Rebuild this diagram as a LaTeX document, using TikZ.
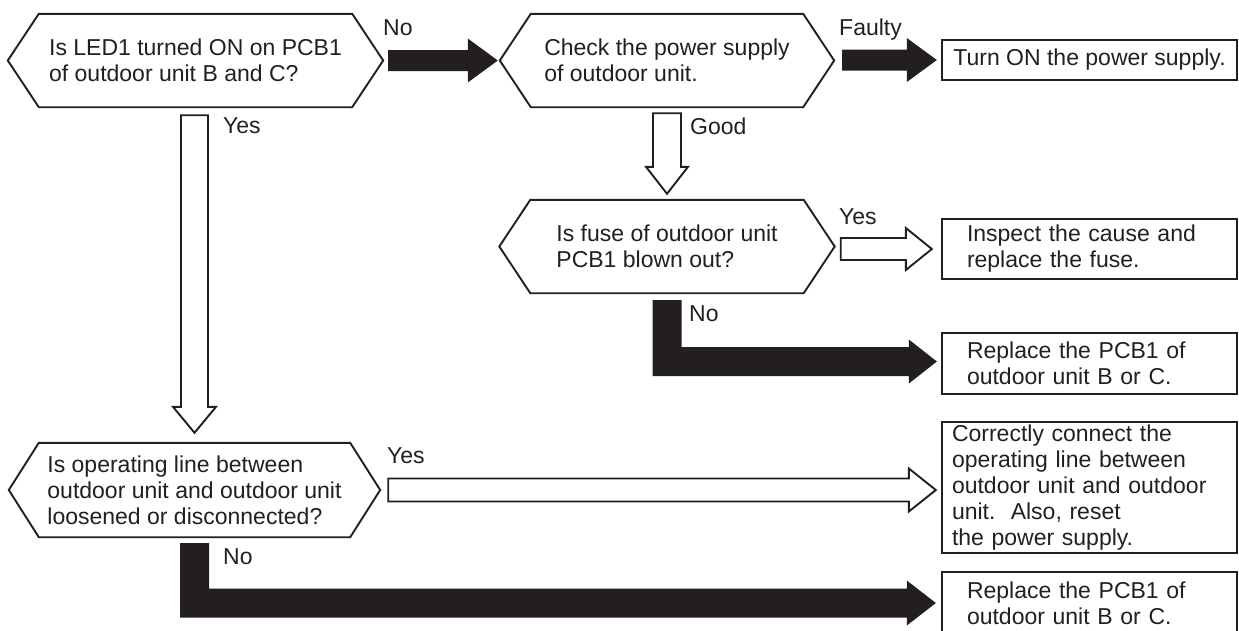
\documentclass[tikz,border=0pt]{standalone}
\usepackage{fontspec}
\setmainfont{Liberation Sans}
\usetikzlibrary{calc,backgrounds}
\definecolor{ink}{RGB}{35,31,32}
\newcommand\hexpath[2]{% node name, point depth
  \draw[hexline] (#1.west) -- ($(#1.north west)+(#2,0)$) -- ($(#1.north east)+(-#2,0)$) -- (#1.east)
    -- ($(#1.south east)+(-#2,0)$) -- ($(#1.south west)+(#2,0)$) -- cycle;}
\newcommand\harrow[6]{% style, start, tip, shaft half, head half, head length
  \path[#1] let \p1=#2, \p2=#3 in
   ({\x1},{\y2+#4pt}) -- ({\x2-#6pt},{\y2+#4pt}) -- ({\x2-#6pt},{\y2+#5pt}) -- ({\x2},{\y2})
   -- ({\x2-#6pt},{\y2-#5pt}) -- ({\x2-#6pt},{\y2-#4pt}) -- ({\x1},{\y2-#4pt}) -- cycle;}
\newcommand\varrow[6]{% style, start, tip, shaft half, head half, head length
  \path[#1] let \p1=#2, \p2=#3 in
   ({\x2-#4pt},{\y1}) -- ({\x2+#4pt},{\y1}) -- ({\x2+#4pt},{\y2+#6pt}) -- ({\x2+#5pt},{\y2+#6pt})
   -- ({\x2},{\y2}) -- ({\x2-#5pt},{\y2+#6pt}) -- ({\x2-#4pt},{\y2+#6pt}) -- cycle;}
\newcommand\larrow[6]{% style, start, tip, half, head half, head length
  \path[#1] let \p1=#2, \p2=#3 in
   ({\x1-#4pt},{\y1}) -- ({\x1+#4pt},{\y1}) -- ({\x1+#4pt},{\y2+#4pt}) -- ({\x2-#6pt},{\y2+#4pt})
   -- ({\x2-#6pt},{\y2+#5pt}) -- ({\x2},{\y2}) -- ({\x2-#6pt},{\y2-#5pt}) -- ({\x2-#6pt},{\y2-#4pt})
   -- ({\x1-#4pt},{\y2-#4pt}) -- cycle;}
\tikzset{
  x=1pt, y=-1pt,
  txt/.style={font=\fontsize{23}{26}\selectfont, text=ink},
  qnode/.style={txt, rectangle, inner sep=0pt, align=left},
  hexline/.style={draw=ink, line width=1.9pt, line join=miter, fill=white},
  abox/.style={txt, rectangle, draw=ink, line width=2.3pt, inner ysep=0pt, minimum width=295pt},
  lbl/.style={txt, inner sep=0pt, anchor=base west},
  blackarrow/.style={fill=ink, draw=none},
  whitearrow/.style={fill=white, draw=ink, line width=1.9pt, line join=miter},
}
\begin{document}
\begin{tikzpicture}
\useasboundingbox (0,0) rectangle (1239,630);
\clip (0,0) rectangle (1239,630);
% decision nodes
\node[qnode, minimum width=375pt, minimum height=93pt] (q1) at (195.5,60.5)
  {Is LED1 turned ON on PCB1\\of outdoor unit B and C?};
\node[qnode, minimum width=334pt, minimum height=93pt] (q2) at (667,60.5)
  {Check the power supply\\of outdoor unit.};
\node[qnode, minimum width=335pt, minimum height=93pt] (q4) at (667,246.5)
  {Is fuse of outdoor unit\\PCB1 blown out?};
\node[qnode, minimum width=371pt, minimum height=94pt] (q3) at (194.5,490)
  {Is operating line between\\outdoor unit and outdoor unit\\loosened or disconnected?};
\begin{scope}[on background layer]
\hexpath{q1}{31}
\hexpath{q2}{31}
\hexpath{q4}{31}
\hexpath{q3}{30}
\end{scope}
% result boxes
\node[abox, minimum height=40pt, inner xsep=0pt, align=center] (r1) at (1089.5,60)
  {Turn ON the power supply.};
\node[abox, minimum height=60pt, inner xsep=25pt, text width=245pt, align=left] (r2) at (1089.5,249)
  {Inspect the cause and\\replace the fuse.};
\node[abox, minimum height=61pt, inner xsep=25pt, text width=245pt, align=left] (r3) at (1089.5,363.5)
  {Replace the PCB1 of\\outdoor unit B or C.};
\node[abox, minimum height=131pt, inner xsep=10pt, text width=275pt, align=left] (r4) at (1089.5,487.5)
  {Correctly connect the\\operating line between\\outdoor unit and outdoor\\unit.\ \ Also, reset\\the power supply.};
\node[abox, minimum height=62pt, inner xsep=25pt, text width=245pt, align=left] (r5) at (1089.5,603)
  {Replace the PCB1 of\\outdoor unit B or C.};
% connectors (block arrows)
\harrow{blackarrow}{($(q1.east)+(5,0)$)}{($(q2.west)+(-2,0)$)}{10.5}{22}{30}
\harrow{blackarrow}{($(q2.east)+(8,0)$)}{($(r1.west)+(-4,0)$)}{10.5}{22}{30}
\varrow{whitearrow}{($(q1.south)+(0,8)$)}{($(q3.north)+(0,-10)$)}{13.5}{21.5}{26}
\varrow{whitearrow}{($(q2.south)+(0,6)$)}{($(q4.north)+(0,-6)$)}{14}{21}{27}
\harrow{whitearrow}{($(q4.east |- r2.west)+(6,0)$)}{($(r2.west)+(-9,0)$)}{11}{21}{26}
\larrow{blackarrow}{($(q4.south)+(0,7)$)}{($(r3.west)+(-4,-2)$)}{14.5}{22}{28}
\harrow{whitearrow}{($(q3.east)+(8,0)$)}{($(r4.west |- q3.east)+(-5,0)$)}{11.5}{21.5}{27}
\larrow{blackarrow}{($(q3.south)+(0,6)$)}{($(r5.west)+(-5,0)$)}{14.5}{22.5}{29}
% labels
\node[lbl] (lno1) at (383,35) {No};
\node[lbl] (lfaulty) at (839,35) {Faulty};
\node[lbl] (lyes1) at (223,133) {Yes};
\node[lbl] (lgood) at (690,134) {Good};
\node[lbl] (lyes2) at (839,224) {Yes};
\node[lbl] (lno2) at (689,321) {No};
\node[lbl] (lyes3) at (387,463) {Yes};
\node[lbl] (lno3) at (223,564) {No};
\end{tikzpicture}
\end{document}
